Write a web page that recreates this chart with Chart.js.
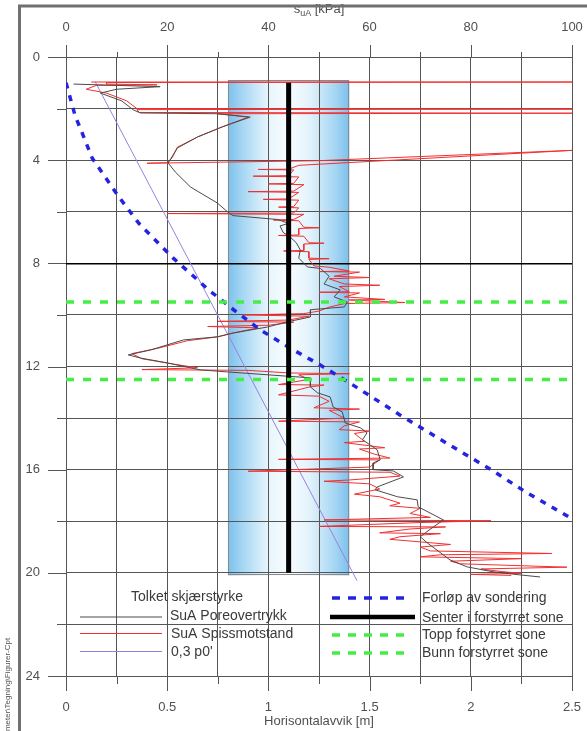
<!DOCTYPE html>
<html><head><meta charset="utf-8">
<script src="https://cdn.jsdelivr.net/npm/chart.js@4.4.0/dist/chart.umd.min.js"></script>
<style>html,body{margin:0;padding:0;background:#fff}canvas{display:block}</style>
</head><body>
<canvas id="c" width="587" height="731"></canvas>
<script>
// ---------- data ----------
// SuA Poreovertrykk (kPa) vs depth (m)
const poreDepth = [1.05,1.15,1.25,1.40,1.7,2.05,2.17,2.2,2.33,2.7,3.1,3.53,4.11,4.46,5.04,5.66,6.0,6.15,6.3,6.45,6.55,6.8,6.98,7.2,7.48,7.8,8.14,8.2,8.5,8.8,9.03,9.3,9.5,9.69,9.8,10.08,10.27,10.47,10.7,10.85,10.97,11.36,11.55,11.67,11.86,12.13,12.21,12.44,12.79,13.02,13.18,13.57,13.76,14.19,14.38,14.57,14.84,15.23,15.62,15.74,16.0,16.05,16.28,16.67,16.78,17.05,17.17,17.44,17.95,18.22,18.6,18.84,19.5,19.77,19.96,20.08,20.16];
const poreSu    = [1.5,18.6,10,6.8,11,13.3,14.7,29.9,36.4,31,26,22.0,20.2,21.6,24.6,29.9,31.9,33,41.8,44,42.3,42.9,44.3,45.5,46.3,46,47.7,50.3,52,51,54.2,53,55.6,55,48.3,48.3,43.7,39.8,33.1,29.9,23.2,16.7,12.3,14.7,20.0,26.5,31.9,48.3,48.3,49.7,52.2,52.8,54.6,55.2,58.2,59.5,58.6,61.5,62.1,60.7,60.7,64.7,66.7,61.5,61.1,65.5,69.4,69.6,74.6,72.6,70.0,71.4,75.9,79.3,84.4,89.7,93.7];
// SuA Spissmotstand (kPa) vs depth (m)
const tipDepth = [0.97,0.97,0.99,1.05,1.08,1.1,1.25,1.4,1.7,2.0,2.02,2.04,2.15,2.18,2.2,2.33,2.7,3.1,3.5,3.9,4.1,4.12,4.02,3.62,4.2,4.35,4.36,4.38,4.6,4.62,4.65,4.9,4.92,4.95,5.2,5.22,5.25,5.5,5.52,5.55,5.8,5.82,5.85,6.05,6.07,6.1,6.3,6.32,6.35,6.6,6.62,6.65,6.9,6.92,6.95,7.2,7.22,7.25,7.5,7.52,7.55,7.8,7.82,7.85,8.1,8.15,8.3,8.32,8.34,8.5,8.55,8.6,8.8,8.85,8.9,9.1,9.12,9.15,9.3,9.4,9.42,9.52,9.56,9.7,9.85,9.95,10.0,10.05,10.2,10.25,10.28,10.4,10.45,10.5,10.7,10.85,11.0,11.3,11.5,11.7,11.9,12.05,12.12,12.15,12.25,12.28,12.32,12.5,12.7,12.72,12.8,13.1,13.15,13.35,13.6,13.65,13.7,14.0,14.12,14.15,14.3,14.45,14.5,14.6,14.9,14.95,15.15,15.2,15.4,15.55,15.6,15.62,15.9,16.06,16.1,16.25,16.4,16.45,16.55,16.75,16.95,17.05,17.3,17.4,17.5,17.7,17.85,17.95,17.98,18.05,18.2,18.22,18.3,18.45,18.48,18.6,18.7,18.9,19.0,19.15,19.25,19.3,19.38,19.45,19.55,19.65,19.78,19.85,19.95,20.02,20.06,20.1];
const tipSu    = [5,100,8,8,18,6,4,8,12,14,100,14,14.5,100,30,36,31,26,22,21,20,16,50,100,46,44,38,45,44,37,46,45,40,47,45,36,46,44,39,46,45,42,46,45,20,47,45,41,46,47,50,46,46,42,47,48,51,47,47,43,48,48,52,48,49,52,56,50,58,53,60,52,55,62,54,56,50,58,55,63,56,67,55,52,50,47,35,48,44,30,45,40,28,38,33,30,24,18,13,15,21,26,15,36,44,56,46,48,42,51,48,42,50,52,49,58,52,55,42,58,55,54,60,57,59,55,63,58,61,64,42,62,60,36,64,66,56,51,60,62,57,62,66,64,70,68,72,51,84,70,50,75,68,62,74,66,64,76,70,72,96,74,70,90,76,78,99,82,86,90,80,88];
// 0,3 p0' (kPa) vs depth (m)
const p0Depth = [0.97, 20.3];
const p0Su    = [5.8, 57.5];
// Forløp av sondering: horizontal deviation (m) vs depth (m)
const soundDepth = [1.0,2.3,2.85,3.93,5.41,6.45,7.29,7.8,9.03,9.8,10.58,11.29,11.87,12.58,13.23,13.88,14.59,15.3,16.0,16.91,17.9];
const soundDev   = [0,0.046,0.075,0.13,0.26,0.36,0.466,0.53,0.705,0.828,0.96,1.108,1.24,1.39,1.52,1.65,1.8,1.95,2.1,2.28,2.5];
// disturbed zone
const centerDev = [1.1, 1.1];
const centerDepth = [1.0, 20.0];
const zoneDev = [0.8, 1.4];
const zoneDepth = [0.9, 20.1];
const topZoneDepth = 9.5;
const bottomZoneDepth = 12.5;
const devRange = [0, 2.5];
// ticks
const devTickValues = [0,0.5,1,1.5,2,2.5];
const devTickLabels = ['0','0.5','1','1.5','2','2.5'];
const suTickLabels = ['0','20','40','60','80','100'];
const depthTickLabels = ['0','4','8','12','16','20','24'];

const zip = (xs, ys) => xs.map((v, i) => ({x: v, y: ys[i]}));
const FONT = '"Liberation Sans", Arial, sans-serif';
Chart.defaults.font.family = FONT;
Chart.defaults.font.size = 13;
Chart.defaults.color = '#505050';

const GRID = '#555555';
const C_GRAY = '#4a4a4a', C_RED = '#f03030', C_PUR = '#9a80e0', C_BLUE = '#2424e0', C_GREEN = '#44ee44';

const deco = {
  id: 'deco',
  beforeDraw(chart) {
    const {ctx, scales: {x, y}} = chart;
    const l = x.getPixelForValue(zoneDev[0]), r = x.getPixelForValue(zoneDev[1]);
    const t = y.getPixelForValue(zoneDepth[0]), b = y.getPixelForValue(zoneDepth[1]);
    const g = ctx.createLinearGradient(l, 0, r, 0);
    g.addColorStop(0, '#7cc0ec');
    g.addColorStop(0.12, '#a6d6f3');
    g.addColorStop(0.33, '#e6f5fc');
    g.addColorStop(0.5, '#f7fcff');
    g.addColorStop(0.67, '#e3f3fb');
    g.addColorStop(0.88, '#a6d6f3');
    g.addColorStop(1, '#7cc0ec');
    ctx.save();
    ctx.fillStyle = g;
    ctx.fillRect(l, t, r - l, b - t);
    ctx.strokeStyle = '#8a8a8a';
    ctx.lineWidth = 1;
    ctx.strokeRect(Math.round(l) + 0.5, Math.round(t) + 0.5, Math.round(r - l) - 1, Math.round(b - t) - 1);
    ctx.restore();
  },
  afterDraw(chart) {
    const {ctx, scales: {x, x2, y}} = chart;
    const line = (x1, y1, xx, yy) => { ctx.beginPath(); ctx.moveTo(x1, y1); ctx.lineTo(xx, yy); ctx.stroke(); };
    ctx.save();
    // tick marks
    ctx.strokeStyle = GRID; ctx.lineWidth = 1;
    for (let v = 0; v <= 24; v += 2) {
      const py = Math.round(y.getPixelForValue(v)) + 0.5;
      line(x.left - (v % 4 === 0 ? 18 : 9), py, x.left, py);
    }
    for (let v = 0; v <= 100; v += 10) {
      const px = Math.round(x2.getPixelForValue(v)) + 0.5;
      line(px, y.top - (v % 20 === 0 ? 12 : 5), px, y.top);
    }
    for (let i = 0; i <= 10; i++) {
      const px = Math.round(x.getPixelForValue(i * 0.25)) + 0.5;
      line(px, y.bottom, px, y.bottom + (i % 2 === 0 ? 15 : 8));
    }
    // axis titles
    ctx.fillStyle = '#505050';
    ctx.textBaseline = 'alphabetic';
    ctx.font = '13px ' + FONT;
    const cx = (x.left + x.right) / 2;
    ctx.textAlign = 'center';
    ctx.fillText('Horisontalavvik [m]', cx, 725);
    // top title s_uA [kPa]
    ctx.textAlign = 'left';
    const w1 = ctx.measureText('s').width;
    ctx.font = '9px ' + FONT;
    const w2 = ctx.measureText('uA').width;
    ctx.font = '13px ' + FONT;
    const w3 = ctx.measureText(' [kPa]').width;
    let sx = cx - (w1 + w2 + w3) / 2;
    ctx.fillText('s', sx, 13);
    ctx.font = '9px ' + FONT;
    ctx.fillText('uA', sx + w1, 16);
    ctx.font = '13px ' + FONT;
    ctx.fillText(' [kPa]', sx + w1 + w2, 13);
    // frame
    ctx.strokeStyle = '#707070'; ctx.lineWidth = 3;
    ctx.beginPath(); ctx.moveTo(19.5, 731); ctx.lineTo(19.5, 6); ctx.lineTo(587, 6); ctx.stroke();
    // rotated file path
    ctx.save();
    ctx.translate(10, 748); ctx.rotate(-Math.PI / 2);
    ctx.font = '8px ' + FONT; ctx.fillStyle = '#555'; ctx.textAlign = 'left';
    ctx.fillText('Parameter\\Tegning\\Figurer-Cpt', 0, 0);
    ctx.restore();
    // legend
    ctx.font = '14px ' + FONT; ctx.fillStyle = '#3a3a3a'; ctx.textBaseline = 'middle'; ctx.textAlign = 'left';
    ctx.fillText('Tolket skjærstyrke', 131, 597);
    const sample = (x1, x2p, yy, color, width, dash) => {
      ctx.save(); ctx.strokeStyle = color; ctx.lineWidth = width; ctx.setLineDash(dash || []);
      line(x1, yy, x2p, yy); ctx.restore();
    };
    sample(80, 162, 617, C_GRAY, 1); ctx.fillText('SuA Poreovertrykk', 170, 616);
    sample(80, 162, 633.5, C_RED, 1); ctx.fillText('SuA Spissmotstand', 171, 634);
    sample(80, 162, 651.5, C_PUR, 1); ctx.fillText("0,3 p0'", 171, 652);
    sample(332, 410, 598, C_BLUE, 3.5, [8, 8]); ctx.fillText('Forløp av sondering', 422, 598);
    sample(330, 415, 617, '#000', 4.5); ctx.fillText('Senter i forstyrret sone', 422, 618);
    sample(332, 410, 635, C_GREEN, 3.5, [8, 8]); ctx.fillText('Topp forstyrret sone', 422, 635);
    sample(332, 410, 653, C_GREEN, 3.5, [8, 8]); ctx.fillText('Bunn forstyrret sone', 422, 653);
    ctx.restore();
  }
};

const lineDs = (label, data, color, width, axis, order, dash) => ({
  label, data, borderColor: color, backgroundColor: color, borderWidth: width,
  showLine: true, pointRadius: 0, pointHoverRadius: 0, fill: false, tension: 0,
  xAxisID: axis, yAxisID: 'y', order, borderDash: dash || []
});

new Chart(document.getElementById('c'), {
  type: 'scatter',
  data: {
    datasets: [
      lineDs('Topp forstyrret sone', zip(devRange, [topZoneDepth, topZoneDepth]), C_GREEN, 3.5, 'x', 0, [8, 9]),
      lineDs('Bunn forstyrret sone', zip(devRange, [bottomZoneDepth, bottomZoneDepth]), C_GREEN, 3.5, 'x', 0, [8, 9]),
      lineDs('Senter i forstyrret sone', zip(centerDev, centerDepth), '#000', 5, 'x', 1),
      lineDs('Forløp av sondering', zip(soundDev, soundDepth), C_BLUE, 3.5, 'x', 2, [6, 7]),
      lineDs('SuA Poreovertrykk', zip(poreSu, poreDepth), C_GRAY, 1, 'x2', 3),
      lineDs('SuA Spissmotstand', zip(tipSu, tipDepth), C_RED, 1, 'x2', 4),
      lineDs("0,3 p0'", zip(p0Su, p0Depth), C_PUR, 1, 'x2', 5)
    ]
  },
  options: {
    responsive: false, animation: false, devicePixelRatio: 1,
    layout: {padding: {left: 0, right: 15, top: 0, bottom: 0}},
    plugins: {legend: {display: false}, tooltip: {enabled: false}},
    events: [],
    scales: {
      x: {
        type: 'linear', position: 'bottom', min: 0, max: 2.5,
        afterFit: s => { s.height = 55; s.paddingLeft = 0; s.paddingRight = 0; },
        grid: {color: GRID, lineWidth: 1, drawTicks: false},
        border: {display: false},
        ticks: {
          stepSize: 0.25, autoSkip: false, maxRotation: 0, padding: 24,
          callback: v => { const i = devTickValues.findIndex(t => Math.abs(t - v) < 1e-6); return i >= 0 ? devTickLabels[i] : ''; }
        }
      },
      x2: {
        type: 'linear', position: 'top', min: 0, max: 100,
        afterFit: s => { s.height = 57; s.paddingLeft = 0; s.paddingRight = 0; },
        grid: {display: false, drawTicks: false},
        border: {display: false},
        ticks: {stepSize: 20, autoSkip: false, maxRotation: 0, padding: 22,
          callback: v => suTickLabels[Math.round(v / 20)] ?? ''}
      },
      y: {
        type: 'linear', position: 'left', min: 0, max: 24, reverse: true,
        afterFit: s => { s.width = 66; s.paddingTop = 0; s.paddingBottom = 0; },
        grid: {
          color: c => (c.tick && c.tick.value === 8) ? '#000' : GRID,
          lineWidth: c => (c.tick && c.tick.value === 8) ? 1.6 : 1,
          drawTicks: false
        },
        border: {display: false},
        ticks: {stepSize: 2, autoSkip: false, padding: 26,
          callback: v => (v % 4 === 0) ? depthTickLabels[v / 4] : ''}
      }
    }
  },
  plugins: [deco]
});
</script>
</body></html>
